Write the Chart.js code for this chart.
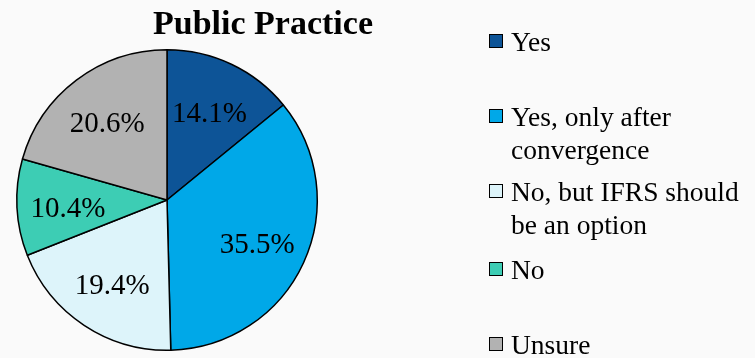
<!DOCTYPE html>
<html><head><meta charset="utf-8">
<script src="https://cdn.jsdelivr.net/npm/chart.js@4/dist/chart.umd.min.js"></script>
<style>
html,body{margin:0;padding:0;background:#fafafa;}
#wrap{position:relative;width:755px;height:358px;overflow:hidden;}
#c{position:absolute;left:0;top:0;}
#title{position:absolute;left:142px;top:4px;width:242px;text-align:center;font-family:"Liberation Serif",serif;font-weight:bold;font-size:34px;color:#000;white-space:nowrap;}
.lg{position:absolute;left:489px;font-family:"Liberation Serif",serif;font-size:27.5px;line-height:33px;color:#000;}
.lg .sw{position:absolute;left:0;top:9px;width:12px;height:12px;border:1.5px solid #000;}
.lg .tx{margin-left:22px;white-space:nowrap;}
</style></head>
<body><div id="wrap"><canvas id="c" width="755" height="358"></canvas><div id="title"></div></div>
<script>
const titleText = "Public Practice";
const categories = ["Yes", "Yes, only after\nconvergence", "No, but IFRS should\nbe an option", "No", "Unsure"];
const values = [14.1, 35.5, 19.4, 10.4, 20.6];
const valueLabels = ["14.1%", "35.5%", "19.4%", "10.4%", "20.6%"];
const colors = ["#0D5497", "#00A8E8", "#DDF4FA", "#3DCDB4", "#B2B2B2"];
const legendTops = [25, 100, 175, 253, 328];

document.getElementById('title').textContent = titleText;
const wrap = document.getElementById('wrap');
categories.forEach((cat, i) => {
  const d = document.createElement('div');
  d.className = 'lg';
  d.style.top = legendTops[i] + 'px';
  const sw = document.createElement('div');
  sw.className = 'sw';
  sw.style.background = colors[i];
  d.appendChild(sw);
  const tx = document.createElement('div');
  tx.className = 'tx';
  tx.innerHTML = cat.split('\n').map(s => s.replace(/&/g,'&amp;')).join('<br>');
  d.appendChild(tx);
  wrap.appendChild(d);
});

const labelPlugin = {
  id: 'sliceLabels',
  afterDatasetsDraw(chart) {
    const ctx = chart.ctx;
    const meta = chart.getDatasetMeta(0);
    ctx.save();
    ctx.font = '29px "Liberation Serif", serif';
    ctx.fillStyle = '#000';
    ctx.textAlign = 'center';
    ctx.textBaseline = 'middle';
    meta.data.forEach((arc, i) => {
      const p = arc.getProps(['x','y','startAngle','endAngle','outerRadius'], true);
      const mid = (p.startAngle + p.endAngle) / 2;
      const r = p.outerRadius * 0.66;
      ctx.fillText(valueLabels[i], p.x + Math.cos(mid) * r, p.y + Math.sin(mid) * r + 4);
    });
    ctx.restore();
  }
};

new Chart(document.getElementById('c'), {
  type: 'pie',
  data: {
    labels: categories,
    datasets: [{
      data: values,
      backgroundColor: colors,
      borderColor: '#000',
      borderWidth: 1.5
    }]
  },
  options: {
    responsive: false,
    animation: false,
    layout: { padding: { left: 16, top: 49, right: 437, bottom: 7 } },
    plugins: { legend: { display: false }, tooltip: { enabled: false }, title: { display: false } }
  },
  plugins: [labelPlugin]
});
</script></body></html>
